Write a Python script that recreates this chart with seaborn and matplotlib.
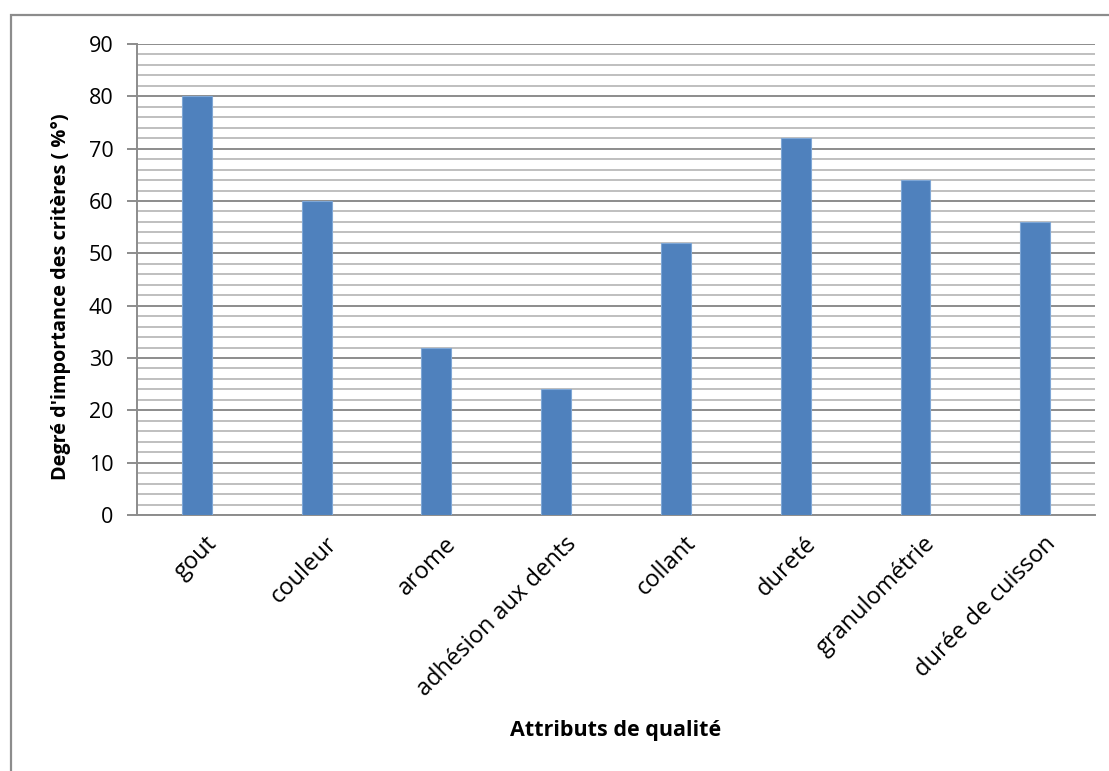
import numpy as np
import matplotlib
matplotlib.use("Agg")
import matplotlib.pyplot as plt
import matplotlib.patches as patches
import matplotlib.transforms as mtransforms
import seaborn as sns
import pandas as pd

attributs = ["gout", "couleur", "arome", "adhésion aux dents", "collant",
             "dureté", "granulométrie", "durée de cuisson"]
importance = [80, 60, 32, 24, 52, 72, 64, 56]

df = pd.DataFrame({"attribut": attributs, "importance": importance})

sns.set_style("white")
plt.rcParams['font.family'] = ['Open Sans', 'DejaVu Sans']
plt.rcParams['text.color'] = 'black'
plt.rcParams['axes.labelcolor'] = 'black'
plt.rcParams['xtick.color'] = 'black'
plt.rcParams['ytick.color'] = 'black'

fig = plt.figure(figsize=(11.09, 7.71), dpi=100)
ax = fig.add_axes([0.1235, 0.332, 0.864, 0.611])

sns.barplot(data=df, x="attribut", y="importance", color="#4F81BD",
            width=0.25, edgecolor="#7FA7D6", linewidth=0.8, saturation=1,
            ax=ax, zorder=3)

ax.set_ylim(0, 90)
ax.set_xlim(-0.5, len(attributs) - 0.5)
ax.set_yticks(np.arange(0, 91, 10))
ax.set_yticks(np.arange(0, 91, 2), minor=True)
ax.grid(which="major", axis="y", color="#8C8C8C", linewidth=1.4, zorder=0)
ax.grid(which="minor", axis="y", color="#BFBFBF", linewidth=1.4, zorder=0)
ax.set_axisbelow(True)

for s in ["top", "right"]:
    ax.spines[s].set_visible(False)
ax.spines["left"].set_color("#8C8C8C")
ax.spines["bottom"].set_color("#8C8C8C")
ax.spines["left"].set_linewidth(1.4)
ax.spines["bottom"].set_linewidth(1.4)

ax.tick_params(axis="y", which="major", length=7, color="#8C8C8C", width=1.4,
               labelsize=15.5, labelcolor="black", pad=10, left=True)
ax.tick_params(axis="y", which="minor", length=0)
ax.tick_params(axis="x", length=0, labelsize=17, labelcolor="black", pad=12)

# rotated category labels, nudged right like Excel does
offset = mtransforms.ScaledTranslation(8 / 100, 0, fig.dpi_scale_trans)
for lab in ax.get_xticklabels():
    lab.set_rotation(45)
    lab.set_ha("right")
    lab.set_va("top")
    lab.set_rotation_mode("anchor")
    lab.set_transform(lab.get_transform() + offset)

ax.set_xlabel("Attributs de qualité", fontsize=15.5, fontweight="bold")
ax.xaxis.label.set_va("center")
ax.xaxis.set_label_coords(0.5, -0.4565)
ax.set_ylabel("Degré d'importance des critères ( %°)", fontsize=14.3,
              fontweight="bold")
ax.yaxis.label.set_va("center")
ax.yaxis.set_label_coords(-0.079, 0.463)

# outer chart border like Excel
border = patches.Rectangle((11 / 1109, -0.1), 1.2, 1 - 15 / 771 + 0.1,
                           transform=fig.transFigure, fill=False,
                           edgecolor="#8C8C8C", linewidth=1.6)
fig.patches.append(border)

fig.savefig("out.png", dpi=100)
